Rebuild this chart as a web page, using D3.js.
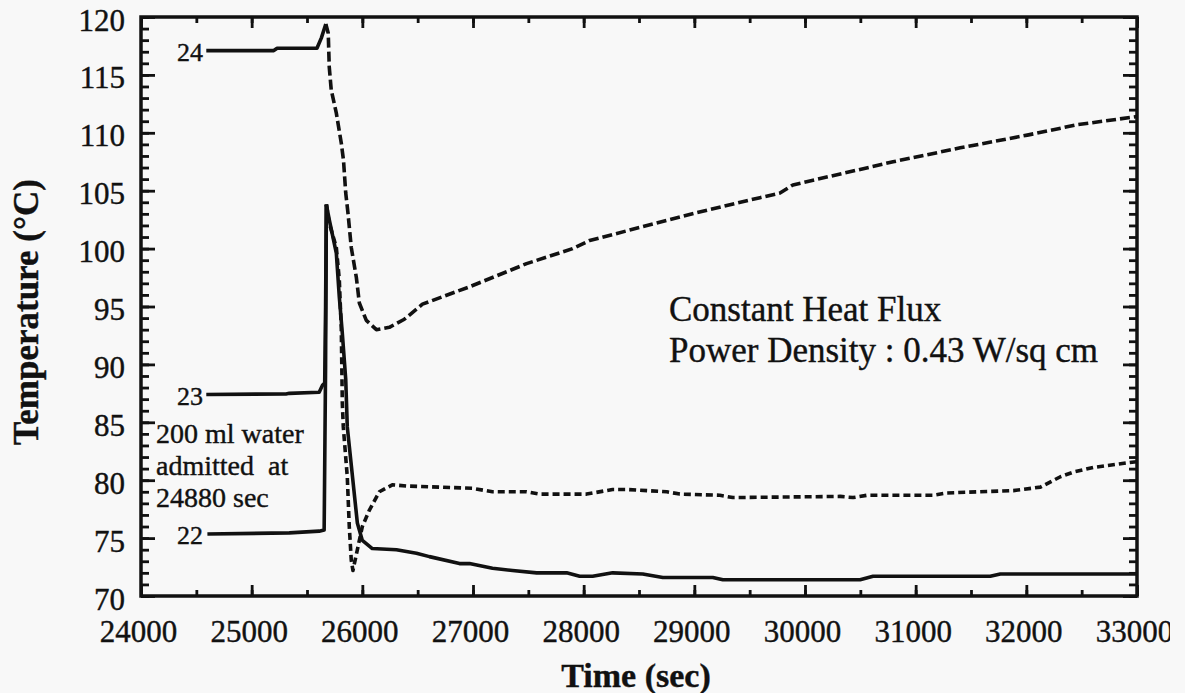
<!DOCTYPE html>
<html>
<head>
<meta charset="utf-8">
<script src="https://cdn.jsdelivr.net/npm/d3@7/dist/d3.min.js"></script>
<style>
  body { margin: 0; background: #f8f8f8; }
  svg { display: block; }
  text { font-family: "Liberation Serif", "Times New Roman", serif; fill: #111; stroke: #111; stroke-width: 0.4; }
</style>
</head>
<body>
<div id="chart"></div>
<script>
// ---- data (time in sec, temperature in C) ----
var xTicks = [24000, 25000, 26000, 27000, 28000, 29000, 30000, 31000, 32000, 33000];
var yTicks = [70, 75, 80, 85, 90, 95, 100, 105, 110, 115, 120];

// before water admitted (solid)
var tc24Before = [[24590, 117.1], [25200, 117.1], [25230, 117.3], [25590, 117.3], [25630, 118.2], [25670, 119.4]];
var tc23Before = [[24590, 87.4], [25310, 87.45], [25340, 87.5], [25610, 87.6], [25640, 88.2], [25660, 88.4], [25668, 95], [25675, 103.8]];
var tc22Before = [[24600, 75.35], [25340, 75.45], [25610, 75.6], [25655, 75.7], [25668, 90], [25675, 103.8]];

// after water admitted
var tc24After = [[25670, 119.4], [25692, 118.6], [25701, 115.7], [25719, 113.7], [25765, 111.7], [25810, 109.1],
  [25830, 107.6], [25850, 104.8], [25870, 103.1], [25900, 100.1], [25946, 97.5], [25973, 95.3], [26036, 93.8],
  [26127, 93.0], [26244, 93.2], [26380, 93.9], [26543, 95.2], [26968, 96.7], [27484, 98.7], [27900, 100.0],
  [28054, 100.7], [28416, 101.6], [29023, 103.1], [29593, 104.4], [29774, 104.8], [29891, 105.5], [30796, 107.5],
  [31403, 108.7], [32009, 109.8], [32462, 110.7], [33000, 111.4]];
var tc23After = [[25675, 103.8], [25701, 102.5], [25765, 99.6], [25792, 95.8], [25819, 92.7], [25850, 88.7],
  [25864, 84.6], [25955, 76.3], [26000, 74.8], [26090, 74.1], [26308, 74.0], [26489, 73.7], [26606, 73.4],
  [26878, 72.8], [26968, 72.8], [27176, 72.4], [27357, 72.2], [27575, 72.0], [27846, 72.0], [27964, 71.7],
  [28081, 71.7], [28262, 72.0], [28534, 71.9], [28715, 71.6], [29167, 71.6], [29258, 71.4], [30498, 71.4],
  [30615, 71.7], [31674, 71.7], [31765, 71.9], [33000, 71.9]];
var tc22After = [[25675, 103.8], [25701, 102.2], [25765, 100.1], [25792, 97.3], [25810, 93.0], [25819, 86.7],
  [25828, 84.6], [25864, 80.3], [25882, 76.0], [25900, 73.1], [25915, 72.2], [25973, 74.8], [26000, 76.0],
  [26063, 77.4], [26154, 79.0], [26271, 79.6], [26398, 79.5], [26995, 79.3], [27176, 79.0], [27484, 79.0],
  [27602, 78.8], [28027, 78.8], [28262, 79.2], [28389, 79.2], [28751, 79.0], [28869, 78.8], [29231, 78.7],
  [29348, 78.5], [30317, 78.6], [30434, 78.5], [30561, 78.7], [31158, 78.7], [31285, 78.9], [31882, 79.1],
  [32127, 79.4], [32308, 80.3], [32425, 80.7], [32606, 81.1], [32914, 81.5], [33000, 81.6]];

var width = 1185, height = 693;

var svg = d3.select("#chart").append("svg")
    .attr("width", width)
    .attr("height", height);

svg.append("clipPath").attr("id", "page")
  .append("rect").attr("x", 0).attr("y", 0).attr("width", 1170).attr("height", height);

var g = svg.append("g").attr("clip-path", "url(#page)");

var x = d3.scaleLinear().domain([24000, 33000]).range([141, 1137]);
var y = d3.scaleLinear().domain([70, 120]).range([596, 17]);

var minorX = d3.range(24000, 33001, 500);
var minorY = d3.range(70, 121, 1);

function styleAxis(sel) {
    sel.attr("font-family", null).attr("font-size", null);
    sel.select(".domain").remove();
    sel.selectAll("line").attr("stroke", "#111").attr("stroke-width", 2.8);
}

// minor ticks
g.append("g").attr("transform", "translate(0," + y(70) + ")")
    .call(d3.axisBottom(x).tickValues(minorX).tickSize(-6).tickFormat(""))
    .call(styleAxis);
g.append("g").attr("transform", "translate(0," + y(120) + ")")
    .call(d3.axisTop(x).tickValues(minorX).tickSize(-6).tickFormat(""))
    .call(styleAxis);
g.append("g").attr("transform", "translate(" + x(24000) + ",0)")
    .call(d3.axisLeft(y).tickValues(minorY).tickSize(-8).tickFormat(""))
    .call(styleAxis);
g.append("g").attr("transform", "translate(" + x(33000) + ",0)")
    .call(d3.axisRight(y).tickValues(minorY).tickSize(-8).tickFormat(""))
    .call(styleAxis);

// major ticks + labels
var xAxis = g.append("g").attr("transform", "translate(0," + y(70) + ")")
    .call(d3.axisBottom(x).tickValues(xTicks).tickSizeInner(-11).tickSizeOuter(0).tickPadding(35).tickFormat(d3.format("d")))
    .call(styleAxis);
xAxis.selectAll("text").attr("font-size", 31).attr("dy", 0).attr("y", 46).attr("x", -3);

var yAxis = g.append("g").attr("transform", "translate(" + x(24000) + ",0)")
    .call(d3.axisLeft(y).tickValues(yTicks).tickSizeInner(-14).tickSizeOuter(0).tickPadding(16))
    .call(styleAxis);
yAxis.selectAll("text").attr("font-size", 31).attr("dy", "0.42em");

g.append("g").attr("transform", "translate(0," + y(120) + ")")
    .call(d3.axisTop(x).tickValues(xTicks).tickSizeInner(-11).tickSizeOuter(0).tickFormat(""))
    .call(styleAxis);
g.append("g").attr("transform", "translate(" + x(33000) + ",0)")
    .call(d3.axisRight(y).tickValues(yTicks).tickSizeInner(-14).tickSizeOuter(0).tickFormat(""))
    .call(styleAxis);

// frame
g.append("rect")
    .attr("x", x(24000)).attr("y", y(120))
    .attr("width", x(33000) - x(24000)).attr("height", y(70) - y(120))
    .attr("fill", "none").attr("stroke", "#111").attr("stroke-width", 3.5);

// curves
var line = d3.line().x(function (d) { return x(d[0]); }).y(function (d) { return y(d[1]); });

function drawCurve(data, dash) {
    g.append("path").datum(data)
        .attr("d", line)
        .attr("fill", "none")
        .attr("stroke", "#111")
        .attr("stroke-width", 3.6)
        .attr("stroke-linejoin", "round")
        .attr("stroke-dasharray", dash);
}

drawCurve(tc24Before, null);
drawCurve(tc23Before, null);
drawCurve(tc22Before, null);
drawCurve(tc23After, null);
drawCurve(tc22After, "7,4");
drawCurve(tc24After, "10,4");

// curve labels
var curveLabels = [["24", 117.1], ["23", 87.4], ["22", 75.35]];
g.selectAll(".clabel").data(curveLabels).enter().append("text")
    .attr("class", "clabel")
    .attr("x", x(24560))
    .attr("y", function (d) { return y(d[1]) + 10; })
    .attr("text-anchor", "end")
    .attr("font-size", 26)
    .text(function (d) { return d[0]; });

// annotations
var note = g.append("text").attr("font-size", 28).attr("x", 156);
note.append("tspan").attr("x", 156).attr("y", 443).text("200 ml water");
note.append("tspan").attr("x", 156).attr("y", 475).attr("xml:space", "preserve").text("admitted  at");
note.append("tspan").attr("x", 156).attr("y", 507).text("24880 sec");

g.append("text").attr("x", 669).attr("y", 321).attr("font-size", 35).text("Constant Heat Flux");
g.append("text").attr("x", 669).attr("y", 362).attr("font-size", 35).text("Power Density : 0.43 W/sq cm");

// axis titles
g.append("text").attr("x", 636).attr("y", 687)
    .attr("text-anchor", "middle").attr("font-size", 34).attr("font-weight", "bold")
    .text("Time (sec)");
g.append("text")
    .attr("transform", "translate(38,312) rotate(-90)")
    .attr("text-anchor", "middle").attr("font-size", 35).attr("font-weight", "bold")
    .text("Temperature (\u00B0C)");
</script>
</body>
</html>
